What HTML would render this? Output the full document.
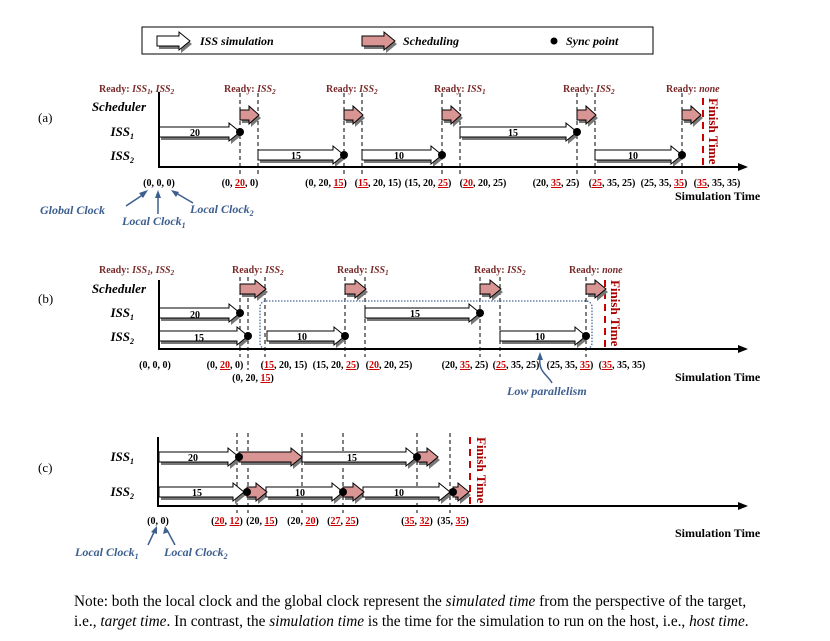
<!DOCTYPE html>
<html><head><meta charset="utf-8">
<style>
html,body{margin:0;padding:0;background:#fff;}
svg{display:block;}
text{font-family:"Liberation Serif",serif;}
.b{font-weight:bold;}
.lbl{font-size:10px;font-weight:bold;text-anchor:middle;fill:#000;}
.r{fill:#c00;text-decoration:underline;}
.rdy{font-size:10px;font-weight:bold;fill:#7a2a2a;}
.row{font-size:13px;font-weight:bold;font-style:italic;text-anchor:end;}
.num{font-size:10px;font-weight:bold;text-anchor:middle;}
.blue{fill:#3d5f8f;font-style:italic;font-weight:bold;font-size:12px;}
.ft{font-size:13px;font-weight:bold;fill:#a00;}
.dl{stroke:#000;stroke-width:1;stroke-dasharray:4,3;}
.fl{stroke:#c00;stroke-width:2;stroke-dasharray:7,5;}
</style></head>
<body>
<svg width="830" height="641" viewBox="0 0 830 641" xmlns="http://www.w3.org/2000/svg">
<defs>
<g id="W">
<path d="M159 127H229V123L240 132L229 141V137H159Z"/>
<path d="M258 150H333V146L344 155L333 164V160H258Z"/>
<path d="M362 150H431V146L442 155L431 164V160H362Z"/>
<path d="M460 127H566V123L577 132L566 141V137H460Z"/>
<path d="M595 150H671V146L682 155L671 164V160H595Z"/>
<path d="M159 308H229V304L240 313L229 322V318H159Z"/>
<path d="M159 331H237V327L248 336L237 345V341H159Z"/>
<path d="M267 331H334V327L345 336L334 345V341H267Z"/>
<path d="M365 308H469V304L480 313L469 322V318H365Z"/>
<path d="M500 331H575V327L586 336L575 345V341H500Z"/>
<path d="M159 452H228V448L239 457L228 466V462H159Z"/>
<path d="M302 452H406V448L417 457L406 466V462H302Z"/>
<path d="M159 487H233V483L244 492L233 501V497H159Z"/>
<path d="M266 487H332V483L343 492L332 501V497H266Z"/>
<path d="M363 487H439V483L450 492L439 501V497H363Z"/>
<path d="M157 36H179V32L190 41L179 50V46H157Z"/>
</g>
<g id="P">
<path d="M240 110H249V106L259 115L249 124V120H240Z"/>
<path d="M344 110H353V106L363 115L353 124V120H344Z"/>
<path d="M442 110H451V106L461 115L451 124V120H442Z"/>
<path d="M577 110H586V106L596 115L586 124V120H577Z"/>
<path d="M682 110H691V106L701 115L691 124V120H682Z"/>
<path d="M240 284H255V280L266 289L255 298V294H240Z"/>
<path d="M345 284H355V280L366 289L355 298V294H345Z"/>
<path d="M480 284H490V280L501 289L490 298V294H480Z"/>
<path d="M586 284H595V280L606 289L595 298V294H586Z"/>
<path d="M239 452H291V448L302 457L291 466V462H239Z"/>
<path d="M417 452H427V448L438 457L427 466V462H417Z"/>
<path d="M247 487H256V483L267 492L256 501V497H247Z"/>
<path d="M343 487H353V483L364 492L353 501V497H343Z"/>
<path d="M453 487H458V483L469 492L458 501V497H453Z"/>
<path d="M362 36H384V32L395 41L384 50V46H362Z"/>
</g>
</defs>

<rect x="142" y="27" width="511" height="27" fill="#fff" stroke="#000" stroke-width="1"/>
<text x="200" y="45" class="b" font-style="italic" font-size="12">ISS simulation</text>
<text x="403" y="45" class="b" font-style="italic" font-size="12">Scheduling</text>
<circle cx="554" cy="41" r="3.5" fill="#000"/>
<text x="566" y="45" class="b" font-style="italic" font-size="12">Sync point</text>

<g class="dl">
<line x1="240" y1="93" x2="240" y2="175"/><line x1="258" y1="93" x2="258" y2="175"/>
<line x1="344" y1="93" x2="344" y2="175"/><line x1="362" y1="93" x2="362" y2="175"/>
<line x1="442" y1="93" x2="442" y2="175"/><line x1="460" y1="93" x2="460" y2="175"/>
<line x1="577" y1="93" x2="577" y2="175"/><line x1="595" y1="93" x2="595" y2="175"/>
<line x1="682" y1="93" x2="682" y2="175"/>
<line x1="240" y1="277" x2="240" y2="357"/><line x1="248" y1="277" x2="248" y2="370"/>
<line x1="265" y1="277" x2="265" y2="357"/>
<line x1="345" y1="277" x2="345" y2="357"/><line x1="365" y1="277" x2="365" y2="357"/>
<line x1="480" y1="277" x2="480" y2="357"/><line x1="500" y1="277" x2="500" y2="357"/>
<line x1="586" y1="277" x2="586" y2="357"/>
<line x1="237" y1="433" x2="237" y2="513"/><line x1="248" y1="433" x2="248" y2="513"/>
<line x1="302" y1="433" x2="302" y2="513"/><line x1="343" y1="433" x2="343" y2="513"/>
<line x1="417" y1="433" x2="417" y2="513"/><line x1="450" y1="433" x2="450" y2="513"/>
</g>

<line class="fl" x1="703" y1="98" x2="703" y2="166"/>
<line class="fl" x1="605" y1="280" x2="605" y2="348"/>
<line class="fl" x1="470" y1="437" x2="470" y2="505"/>
<text class="ft" transform="translate(709,98) rotate(90)">Finish Time</text>
<text class="ft" transform="translate(611,280) rotate(90)">Finish Time</text>
<text class="ft" transform="translate(477,437) rotate(90)">Finish Time</text>

<rect x="260" y="301" width="332" height="48" rx="6" fill="none" stroke="#4a6a9a" stroke-width="1.3" stroke-dasharray="1.5,1.5"/>

<use href="#W" fill="#777" transform="translate(2,3)"/>
<use href="#P" fill="#777" transform="translate(2,3)"/>
<use href="#W" fill="#fff" stroke="#000" stroke-width="1"/>
<use href="#P" fill="#d99594" stroke="#000" stroke-width="1"/>

<g stroke="#000" stroke-width="2" fill="none">
<path d="M159 92V167H742"/>
<path d="M159 280V349H742"/>
<path d="M158 437V506H742"/>
</g>
<g fill="#000">
<path d="M748 167L738 163V171Z"/><path d="M748 349L738 345V353Z"/><path d="M748 506L738 502V510Z"/>
</g>

<g fill="#000">
<circle cx="240" cy="132" r="4"/><circle cx="344" cy="155" r="4"/><circle cx="442" cy="155" r="4"/>
<circle cx="577" cy="132" r="4"/><circle cx="682" cy="155" r="4"/>
<circle cx="240" cy="313" r="4"/><circle cx="248" cy="336" r="4"/><circle cx="345" cy="336" r="4"/>
<circle cx="480" cy="313" r="4"/><circle cx="586" cy="336" r="4"/>
<circle cx="239" cy="457" r="4"/><circle cx="417" cy="457" r="4"/>
<circle cx="247" cy="492" r="4"/><circle cx="343" cy="492" r="4"/><circle cx="453" cy="492" r="4"/>
</g>

<g class="num">
<text x="195" y="136">20</text><text x="296" y="159">15</text><text x="399" y="159">10</text>
<text x="513" y="136">15</text><text x="633" y="159">10</text>
<text x="195" y="318">20</text><text x="199" y="341">15</text><text x="302" y="340">10</text>
<text x="415" y="317">15</text><text x="540" y="340">10</text>
<text x="193" y="461">20</text><text x="352" y="461">15</text>
<text x="197" y="496">15</text><text x="300" y="496">10</text><text x="399" y="496">10</text>
</g>

<g class="row">
<text x="146" y="111">Scheduler</text>
<text x="134" y="136">ISS<tspan font-size="8" dy="3">1</tspan></text>
<text x="134" y="160">ISS<tspan font-size="8" dy="3">2</tspan></text>
<text x="146" y="293">Scheduler</text>
<text x="134" y="317">ISS<tspan font-size="8" dy="3">1</tspan></text>
<text x="134" y="341">ISS<tspan font-size="8" dy="3">2</tspan></text>
<text x="134" y="461">ISS<tspan font-size="8" dy="3">1</tspan></text>
<text x="134" y="496">ISS<tspan font-size="8" dy="3">2</tspan></text>
</g>
<text x="38" y="122" font-size="13">(a)</text>
<text x="38" y="303" font-size="13">(b)</text>
<text x="38" y="472" font-size="13">(c)</text>

<g class="rdy">
<text x="99" y="92">Ready: <tspan font-style="italic">ISS<tspan font-size="7" dy="2">1</tspan><tspan dy="-2">, ISS</tspan><tspan font-size="7" dy="2">2</tspan></tspan></text>
<text x="224" y="92">Ready: <tspan font-style="italic">ISS<tspan font-size="7" dy="2">2</tspan></tspan></text>
<text x="326" y="92">Ready: <tspan font-style="italic">ISS<tspan font-size="7" dy="2">2</tspan></tspan></text>
<text x="434" y="92">Ready: <tspan font-style="italic">ISS<tspan font-size="7" dy="2">1</tspan></tspan></text>
<text x="563" y="92">Ready: <tspan font-style="italic">ISS<tspan font-size="7" dy="2">2</tspan></tspan></text>
<text x="666" y="92">Ready: <tspan font-style="italic">none</tspan></text>
<text x="99" y="273">Ready: <tspan font-style="italic">ISS<tspan font-size="7" dy="2">1</tspan><tspan dy="-2">, ISS</tspan><tspan font-size="7" dy="2">2</tspan></tspan></text>
<text x="232" y="273">Ready: <tspan font-style="italic">ISS<tspan font-size="7" dy="2">2</tspan></tspan></text>
<text x="337" y="273">Ready: <tspan font-style="italic">ISS<tspan font-size="7" dy="2">1</tspan></tspan></text>
<text x="474" y="273">Ready: <tspan font-style="italic">ISS<tspan font-size="7" dy="2">2</tspan></tspan></text>
<text x="569" y="273">Ready: <tspan font-style="italic">none</tspan></text>
</g>

<g class="lbl">
<text x="159" y="186">(0, 0, 0)</text>
<text x="240" y="186">(0, <tspan class="r">20</tspan>, 0)</text>
<text x="326" y="186">(0, 20, <tspan class="r">15</tspan>)</text>
<text x="378" y="186">(<tspan class="r">15</tspan>, 20, 15)</text>
<text x="428" y="186">(15, 20, <tspan class="r">25</tspan>)</text>
<text x="483" y="186">(<tspan class="r">20</tspan>, 20, 25)</text>
<text x="556" y="186">(20, <tspan class="r">35</tspan>, 25)</text>
<text x="612" y="186">(<tspan class="r">25</tspan>, 35, 25)</text>
<text x="664" y="186">(25, 35, <tspan class="r">35</tspan>)</text>
<text x="717" y="186">(<tspan class="r">35</tspan>, 35, 35)</text>
<text x="155" y="368">(0, 0, 0)</text>
<text x="225" y="368">(0, <tspan class="r">20</tspan>, 0)</text>
<text x="253" y="381">(0, 20, <tspan class="r">15</tspan>)</text>
<text x="284" y="368">(<tspan class="r">15</tspan>, 20, 15)</text>
<text x="336" y="368">(15, 20, <tspan class="r">25</tspan>)</text>
<text x="389" y="368">(<tspan class="r">20</tspan>, 20, 25)</text>
<text x="465" y="368">(20, <tspan class="r">35</tspan>, 25)</text>
<text x="516" y="368">(<tspan class="r">25</tspan>, 35, 25)</text>
<text x="570" y="368">(25, 35, <tspan class="r">35</tspan>)</text>
<text x="622" y="368">(<tspan class="r">35</tspan>, 35, 35)</text>
<text x="158" y="524">(0, 0)</text>
<text x="227" y="524">(<tspan class="r">20</tspan>, <tspan class="r">12</tspan>)</text>
<text x="262" y="524">(20, <tspan class="r">15</tspan>)</text>
<text x="303" y="524">(20, <tspan class="r">20</tspan>)</text>
<text x="343" y="524">(<tspan class="r">27</tspan>, <tspan class="r">25</tspan>)</text>
<text x="417" y="524">(<tspan class="r">35</tspan>, <tspan class="r">32</tspan>)</text>
<text x="453" y="524">(35, <tspan class="r">35</tspan>)</text>
</g>

<g class="b" font-size="12">
<text x="675" y="200">Simulation Time</text>
<text x="675" y="381">Simulation Time</text>
<text x="675" y="537">Simulation Time</text>
</g>

<g stroke="#3d5f8f" stroke-width="1.5" fill="none">
<line x1="126" y1="206" x2="144" y2="194"/>
<line x1="158" y1="214" x2="158" y2="196"/>
<line x1="193" y1="203" x2="176" y2="193"/>
<path d="M552 383C548 375 538 372 540 358"/>
<line x1="148" y1="545" x2="155" y2="530"/>
<line x1="175" y1="545" x2="167" y2="530"/>
</g>
<g fill="#3d5f8f">
<path d="M148 190L139 193L143 198Z"/>
<path d="M158 190L155 198L161 198Z"/>
<path d="M171 190L176 197L179 192Z"/>
<path d="M540 352L537 360L543 360Z"/>
<path d="M157 526L151 532L157 534Z"/>
<path d="M165 526L163 534L169 532Z"/>
</g>
<text x="40" y="214" class="blue">Global Clock</text>
<text x="122" y="225" class="blue">Local Clock<tspan font-size="8" dy="3">1</tspan></text>
<text x="190" y="213" class="blue">Local Clock<tspan font-size="8" dy="3">2</tspan></text>
<text x="507" y="395" class="blue" font-size="13">Low parallelism</text>
<text x="75" y="556" class="blue">Local Clock<tspan font-size="8" dy="3">1</tspan></text>
<text x="164" y="556" class="blue">Local Clock<tspan font-size="8" dy="3">2</tspan></text>

<text x="74" y="606" font-size="15.3">Note: both the local clock and the global clock represent the <tspan font-style="italic">simulated time</tspan> from the perspective of the target,</text>
<text x="74" y="626" font-size="15.3">i.e., <tspan font-style="italic">target time</tspan>. In contrast, the <tspan font-style="italic">simulation time</tspan> is the time for the simulation to run on the host, i.e., <tspan font-style="italic">host time</tspan>.</text>
</svg>
</body></html>
